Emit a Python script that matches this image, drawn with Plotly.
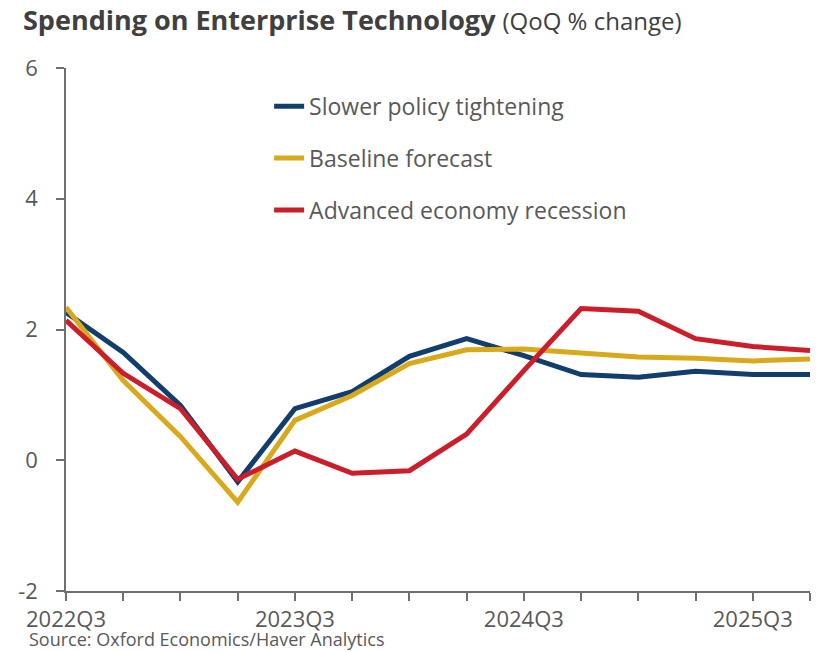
import plotly.graph_objects as go

# Quarterly periods shown on the horizontal axis
quarters = [
    "2022Q3", "2022Q4", "2023Q1", "2023Q2", "2023Q3", "2023Q4", "2024Q1",
    "2024Q2", "2024Q3", "2024Q4", "2025Q1", "2025Q2", "2025Q3", "2025Q4",
]

# QoQ % change in enterprise technology spending, by scenario
slower_tightening = [2.26, 1.65, 0.84, -0.33, 0.79, 1.05, 1.59, 1.86, 1.60, 1.31, 1.27, 1.36, 1.31, 1.31]
baseline = [2.34, 1.22, 0.36, -0.64, 0.61, 0.99, 1.48, 1.69, 1.70, 1.64, 1.58, 1.56, 1.52, 1.55]
recession = [2.14, 1.33, 0.79, -0.29, 0.14, -0.20, -0.16, 0.40, 1.37, 2.32, 2.28, 1.86, 1.74, 1.68]

series_names = ["Slower policy tightening", "Baseline forecast", "Advanced economy recession"]
series_colors = ["#123e6d", "#d9a91c", "#cc1d2a"]
series_values = [slower_tightening, baseline, recession]

y_ticks = [-2, 0, 2, 4, 6]
y_tick_text = [str(v) for v in y_ticks]
x_tick_text = [q if q.endswith("Q3") else "" for q in quarters]

TEXT = "#595959"
AXIS = "#6f6f6f"
FONT = "Open Sans"

fig = go.Figure()
for i, (name, color, vals) in enumerate(zip(series_names, series_colors, series_values)):
    fig.add_trace(go.Scatter(
        x=quarters, y=vals, name=name, mode="lines",
        line=dict(color=color, width=5),
        legendgroup=f"g{i}",
    ))

fig.update_layout(
    width=823, height=652,
    margin=dict(l=66, r=13, t=68, b=61),
    paper_bgcolor="white", plot_bgcolor="white",
    font=dict(family=FONT, color=TEXT),
    showlegend=True,
    legend=dict(
        x=0.273, y=0.968, xanchor="left", yanchor="top",
        font=dict(size=23, color=TEXT, family=FONT),
        bgcolor="rgba(0,0,0,0)",
        traceorder="grouped", tracegroupgap=19,
    ),
    xaxis=dict(
        type="category", range=[0, 13],
        tickmode="array", tickvals=quarters, ticktext=x_tick_text,
        ticks="outside", ticklen=8, tickcolor=AXIS, tickwidth=1.5,
        showline=True, linecolor=AXIS, linewidth=1.5,
        showgrid=False, zeroline=False,
        tickfont=dict(size=22, color=TEXT),
        ticklabelstandoff=0,
    ),
    yaxis=dict(
        range=[-2, 6], tickmode="array", tickvals=y_ticks, ticktext=y_tick_text,
        ticks="outside", ticklen=8, tickcolor=AXIS, tickwidth=1.5,
        showline=True, linecolor=AXIS, linewidth=1.5,
        showgrid=False, zeroline=False,
        tickfont=dict(size=22, color=TEXT),
        ticklabelstandoff=14,
    ),
)

fig.add_annotation(
    xref="paper", yref="paper", x=-0.06, y=1.0, yshift=69,
    xanchor="left", yanchor="top", showarrow=False,
    text="<b>Spending on Enterprise Technology</b> <span style='font-size:24px'>(QoQ % change)</span>",
    font=dict(size=27, color="#404040", family=FONT),
)
fig.add_annotation(
    xref="paper", yref="paper", x=-0.053, y=0, yshift=-62,
    xanchor="left", yanchor="bottom", showarrow=False,
    text="Source: Oxford Economics/Haver Analytics",
    font=dict(size=18, color=TEXT, family=FONT),
)

fig.write_html("out.html")
